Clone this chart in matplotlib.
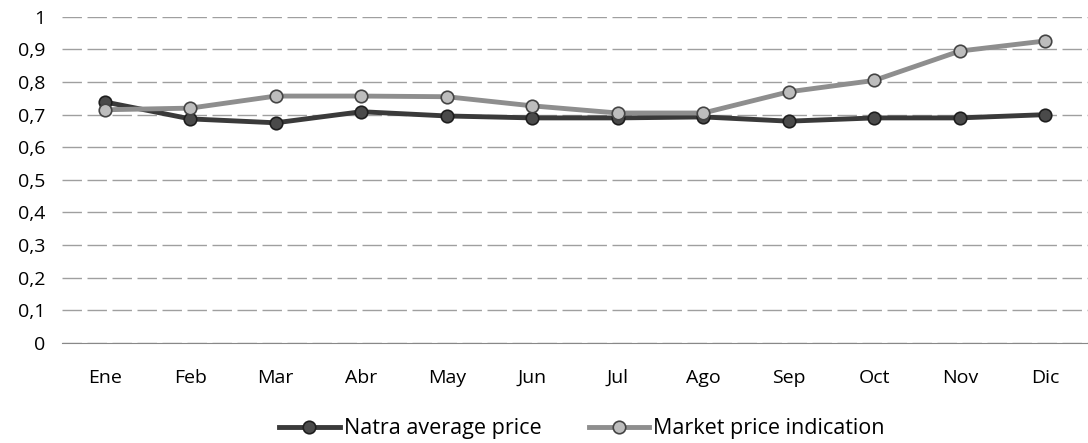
import matplotlib
matplotlib.use("Agg")
import matplotlib.pyplot as plt
from matplotlib.ticker import FuncFormatter

months = ["Ene", "Feb", "Mar", "Abr", "May", "Jun", "Jul", "Ago", "Sep", "Oct", "Nov", "Dic"]
natra_avg = [0.739, 0.687, 0.675, 0.709, 0.696, 0.690, 0.690, 0.693, 0.680, 0.690, 0.690, 0.700]
market_price = [0.715, 0.720, 0.757, 0.757, 0.755, 0.727, 0.705, 0.705, 0.770, 0.805, 0.895, 0.926]
y_ticks = [0, 0.1, 0.2, 0.3, 0.4, 0.5, 0.6, 0.7, 0.8, 0.9, 1.0]

plt.rcParams['font.family'] = ['Open Sans', 'DejaVu Sans']

fig = plt.figure(figsize=(10.88, 4.43), dpi=100)
ax = fig.add_axes([0.057, 0.226, 0.943, 0.736])

x = list(range(len(months)))
ax.plot(x, natra_avg, color="#3a3a3a", lw=3.5, marker="o", ms=9,
        markerfacecolor="#4a4a4a", markeredgecolor="#1e1e1e", mew=1.2,
        label="Natra average price", zorder=3)
ax.plot(x, market_price, color="#8e8e8e", lw=3.5, marker="o", ms=9,
        markerfacecolor="#bdbdbd", markeredgecolor="#444444", mew=1.2,
        label="Market price indication", zorder=4)

ax.set_xlim(-0.5, len(months) - 0.5)
ax.set_ylim(0, 1)
ax.set_yticks(y_ticks)
ax.yaxis.set_major_formatter(FuncFormatter(lambda v, p: ("%g" % round(v, 1)).replace(".", ",")))
ax.set_xticks(x)
ax.set_xticklabels(months)
ax.grid(axis="y", color="#777777", lw=1, ls=(0, (14, 4)), alpha=0.7)
ax.set_axisbelow(True)
for s in ["top", "right", "left"]:
    ax.spines[s].set_visible(False)
ax.spines["bottom"].set_color("#888888")
ax.tick_params(axis="both", length=0, labelsize=14, colors="#000000")
ax.tick_params(axis="y", pad=12)
ax.tick_params(axis="x", pad=19)

fig.legend(loc="lower center", bbox_to_anchor=(0.535, -0.035), ncol=2, frameon=False,
           fontsize=15.5, handlelength=2.8, handletextpad=0.2, columnspacing=2.2)

fig.savefig("out.png", dpi=100)
